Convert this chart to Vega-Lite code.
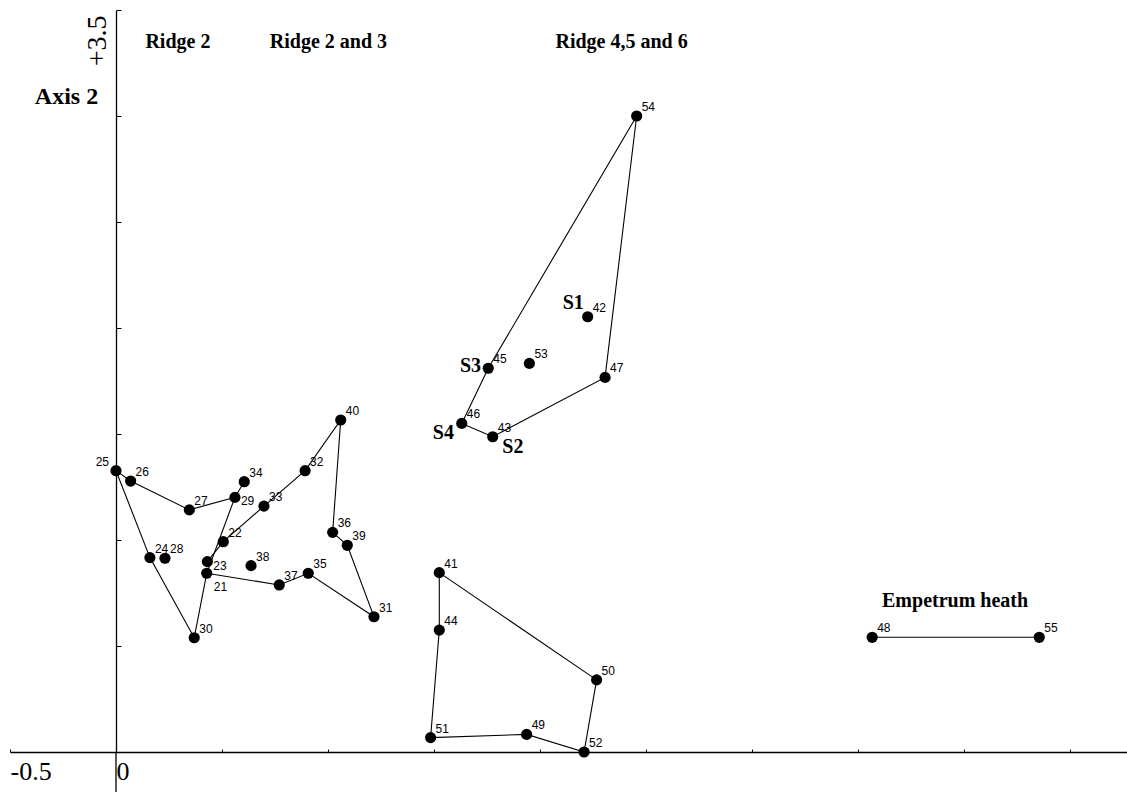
{
  "$schema": "https://vega.github.io/schema/vega-lite/v6.json",
  "width": 1117,
  "height": 742,
  "autosize": {"type": "none"},
  "padding": {"left": 10, "top": 10, "right": 0, "bottom": 40},
  "background": "white",
  "view": {"stroke": null},
  "datasets": {
    "sites": [
      {"id": 25, "x": 0.0, "y": 1.327},
      {"id": 26, "x": 0.069, "y": 1.278},
      {"id": 27, "x": 0.346, "y": 1.142},
      {"id": 29, "x": 0.561, "y": 1.201},
      {"id": 34, "x": 0.605, "y": 1.275},
      {"id": 24, "x": 0.160, "y": 0.917},
      {"id": 28, "x": 0.231, "y": 0.914},
      {"id": 30, "x": 0.369, "y": 0.539},
      {"id": 23, "x": 0.431, "y": 0.898},
      {"id": 21, "x": 0.428, "y": 0.843},
      {"id": 22, "x": 0.506, "y": 0.992},
      {"id": 33, "x": 0.698, "y": 1.160},
      {"id": 32, "x": 0.892, "y": 1.327},
      {"id": 40, "x": 1.060, "y": 1.566},
      {"id": 36, "x": 1.022, "y": 1.036},
      {"id": 39, "x": 1.091, "y": 0.975},
      {"id": 38, "x": 0.637, "y": 0.879},
      {"id": 37, "x": 0.770, "y": 0.788},
      {"id": 35, "x": 0.907, "y": 0.843},
      {"id": 31, "x": 1.217, "y": 0.638},
      {"id": 54, "x": 2.456, "y": 3.000},
      {"id": 42, "x": 2.225, "y": 2.053},
      {"id": 45, "x": 1.756, "y": 1.810},
      {"id": 53, "x": 1.950, "y": 1.833},
      {"id": 47, "x": 2.307, "y": 1.767},
      {"id": 46, "x": 1.631, "y": 1.550},
      {"id": 43, "x": 1.777, "y": 1.487},
      {"id": 41, "x": 1.525, "y": 0.846},
      {"id": 44, "x": 1.525, "y": 0.575},
      {"id": 50, "x": 2.267, "y": 0.340},
      {"id": 51, "x": 1.484, "y": 0.068},
      {"id": 49, "x": 1.937, "y": 0.083},
      {"id": 52, "x": 2.208, "y": 0.000},
      {"id": 48, "x": 3.567, "y": 0.541},
      {"id": 55, "x": 4.355, "y": 0.541}
    ],
    "envelopes": [
      {"ring": "A", "seq": 1, "id": 34, "x": 0.605, "y": 1.275},
      {"ring": "A", "seq": 2, "id": 29, "x": 0.561, "y": 1.201},
      {"ring": "A", "seq": 3, "id": 27, "x": 0.346, "y": 1.142},
      {"ring": "A", "seq": 4, "id": 26, "x": 0.069, "y": 1.278},
      {"ring": "A", "seq": 5, "id": 25, "x": 0.0, "y": 1.327},
      {"ring": "A", "seq": 6, "id": 24, "x": 0.160, "y": 0.917},
      {"ring": "A", "seq": 7, "id": 30, "x": 0.369, "y": 0.539},
      {"ring": "A", "seq": 8, "id": 21, "x": 0.428, "y": 0.843},
      {"ring": "A", "seq": 9, "id": 29, "x": 0.561, "y": 1.201},
      {"ring": "B", "seq": 1, "id": 23, "x": 0.431, "y": 0.898},
      {"ring": "B", "seq": 2, "id": 22, "x": 0.506, "y": 0.992},
      {"ring": "B", "seq": 3, "id": 33, "x": 0.698, "y": 1.160},
      {"ring": "B", "seq": 4, "id": 32, "x": 0.892, "y": 1.327},
      {"ring": "B", "seq": 5, "id": 40, "x": 1.060, "y": 1.566},
      {"ring": "B", "seq": 6, "id": 36, "x": 1.022, "y": 1.036},
      {"ring": "B", "seq": 7, "id": 39, "x": 1.091, "y": 0.975},
      {"ring": "B", "seq": 8, "id": 31, "x": 1.217, "y": 0.638},
      {"ring": "B", "seq": 9, "id": 35, "x": 0.907, "y": 0.843},
      {"ring": "B", "seq": 10, "id": 37, "x": 0.770, "y": 0.788},
      {"ring": "B", "seq": 11, "id": 21, "x": 0.428, "y": 0.843},
      {"ring": "C", "seq": 1, "id": 54, "x": 2.456, "y": 3.000},
      {"ring": "C", "seq": 2, "id": 45, "x": 1.756, "y": 1.810},
      {"ring": "C", "seq": 3, "id": 46, "x": 1.631, "y": 1.550},
      {"ring": "C", "seq": 4, "id": 43, "x": 1.777, "y": 1.487},
      {"ring": "C", "seq": 5, "id": 47, "x": 2.307, "y": 1.767},
      {"ring": "C", "seq": 6, "id": 54, "x": 2.456, "y": 3.000},
      {"ring": "D", "seq": 1, "id": 41, "x": 1.525, "y": 0.846},
      {"ring": "D", "seq": 2, "id": 44, "x": 1.525, "y": 0.575},
      {"ring": "D", "seq": 3, "id": 51, "x": 1.484, "y": 0.068},
      {"ring": "D", "seq": 4, "id": 49, "x": 1.937, "y": 0.083},
      {"ring": "D", "seq": 5, "id": 52, "x": 2.208, "y": 0.000},
      {"ring": "D", "seq": 6, "id": 50, "x": 2.267, "y": 0.340},
      {"ring": "D", "seq": 7, "id": 41, "x": 1.525, "y": 0.846},
      {"ring": "E", "seq": 1, "id": 48, "x": 3.567, "y": 0.541},
      {"ring": "E", "seq": 2, "id": 55, "x": 4.355, "y": 0.541}
    ],
    "notes": [
      {"text": "Ridge 2", "x": 0.292, "y": 3.35},
      {"text": "Ridge 2 and 3", "x": 1.002, "y": 3.35},
      {"text": "Ridge 4,5 and 6", "x": 2.385, "y": 3.35},
      {"text": "Empetrum heath", "x": 3.958, "y": 0.714},
      {"text": "S1", "x": 2.157, "y": 2.120},
      {"text": "S2", "x": 1.872, "y": 1.440},
      {"text": "S3", "x": 1.672, "y": 1.822},
      {"text": "S4", "x": 1.544, "y": 1.503}
    ],
    "origin": [
      {"x": 0, "y": -0.19, "y2": 0}
    ]
  },
  "encoding": {
    "x": {
      "field": "x",
      "type": "quantitative",
      "scale": {"domain": [-0.5, 4.769], "nice": false, "zero": false},
      "axis": {
        "values": [-0.5, 0, 0.5, 1, 1.5, 2, 2.5, 3, 3.5, 4, 4.5],
        "labelExpr": "datum.value == -0.5 ? '-0.5' : (datum.value == 0 ? '0' : '')",
        "labelAlign": "left",
        "labelBaseline": "top",
        "labelFont": "Liberation Serif",
        "labelFontSize": 26,
        "labelColor": "#000",
        "labelPadding": 9,
        "labelFlush": false,
        "labelOverlap": false,
        "tickSize": -3,
        "tickColor": "#000",
        "domainColor": "#000",
        "domainWidth": 1.3,
        "grid": false,
        "title": null
      }
    },
    "y": {
      "field": "y",
      "type": "quantitative",
      "scale": {"domain": [0, 3.5], "nice": false, "zero": false},
      "axis": {
        "values": [0, 0.5, 1, 1.5, 2, 2.5, 3, 3.5],
        "offset": -106,
        "labelExpr": "datum.value == 3.5 ? '+3.5' : ''",
        "labelAngle": 270,
        "labelAlign": "right",
        "labelBaseline": "bottom",
        "labelFont": "Liberation Serif",
        "labelFontSize": 28,
        "labelOffset": 5,
        "labelColor": "#000",
        "labelPadding": 10,
        "labelOverlap": false,
        "labelFlush": false,
        "tickSize": -5,
        "tickColor": "#000",
        "domainColor": "#000",
        "domainWidth": 1.3,
        "grid": false,
        "title": "Axis 2",
        "titleAngle": 0,
        "titleFont": "Liberation Serif",
        "titleFontSize": 24,
        "titleFontWeight": "bold",
        "titleColor": "#000",
        "titleX": -50,
        "titleY": 86,
        "titleAlign": "center",
        "titleBaseline": "middle"
      }
    }
  },
  "layer": [
    {
      "data": {"name": "origin"},
      "mark": {"type": "rule", "color": "#000", "strokeWidth": 1.3},
      "encoding": {"y2": {"field": "y2"}}
    },
    {
      "data": {"name": "envelopes"},
      "mark": {"type": "line", "color": "#000", "strokeWidth": 1.1},
      "encoding": {
        "detail": {"field": "ring"},
        "order": {"field": "seq", "type": "quantitative"}
      }
    },
    {
      "data": {"name": "sites"},
      "mark": {"type": "point", "filled": true, "color": "#000", "opacity": 1, "size": 125},
      "encoding": {}
    },
    {
      "data": {"name": "sites"},
      "transform": [{"filter": {"not": {"field": "id", "oneOf": [21, 23, 25, 29]}}}],
      "mark": {"type": "text", "font": "Liberation Sans", "fontSize": 12, "color": "#000", "align": "left", "baseline": "alphabetic", "dx": 5, "dy": -5},
      "encoding": {"text": {"field": "id", "type": "nominal"}}
    },
    {
      "data": {"name": "sites"},
      "transform": [{"filter": {"field": "id", "oneOf": [23, 29]}}],
      "mark": {"type": "text", "font": "Liberation Sans", "fontSize": 12, "color": "#000", "align": "left", "baseline": "alphabetic", "dx": 6, "dy": 8},
      "encoding": {"text": {"field": "id", "type": "nominal"}}
    },
    {
      "data": {"name": "sites"},
      "transform": [{"filter": {"field": "id", "equal": 21}}],
      "mark": {"type": "text", "font": "Liberation Sans", "fontSize": 12, "color": "#000", "align": "left", "baseline": "alphabetic", "dx": 7, "dy": 18},
      "encoding": {"text": {"field": "id", "type": "nominal"}}
    },
    {
      "data": {"name": "sites"},
      "transform": [{"filter": {"field": "id", "equal": 25}}],
      "mark": {"type": "text", "font": "Liberation Sans", "fontSize": 12, "color": "#000", "align": "right", "baseline": "alphabetic", "dx": -7, "dy": -5},
      "encoding": {"text": {"field": "id", "type": "nominal"}}
    },
    {
      "data": {"name": "notes"},
      "mark": {"type": "text", "font": "Liberation Serif", "fontSize": 20, "fontWeight": "bold", "color": "#000", "align": "center", "baseline": "middle"},
      "encoding": {"text": {"field": "text", "type": "nominal"}}
    }
  ]
}
